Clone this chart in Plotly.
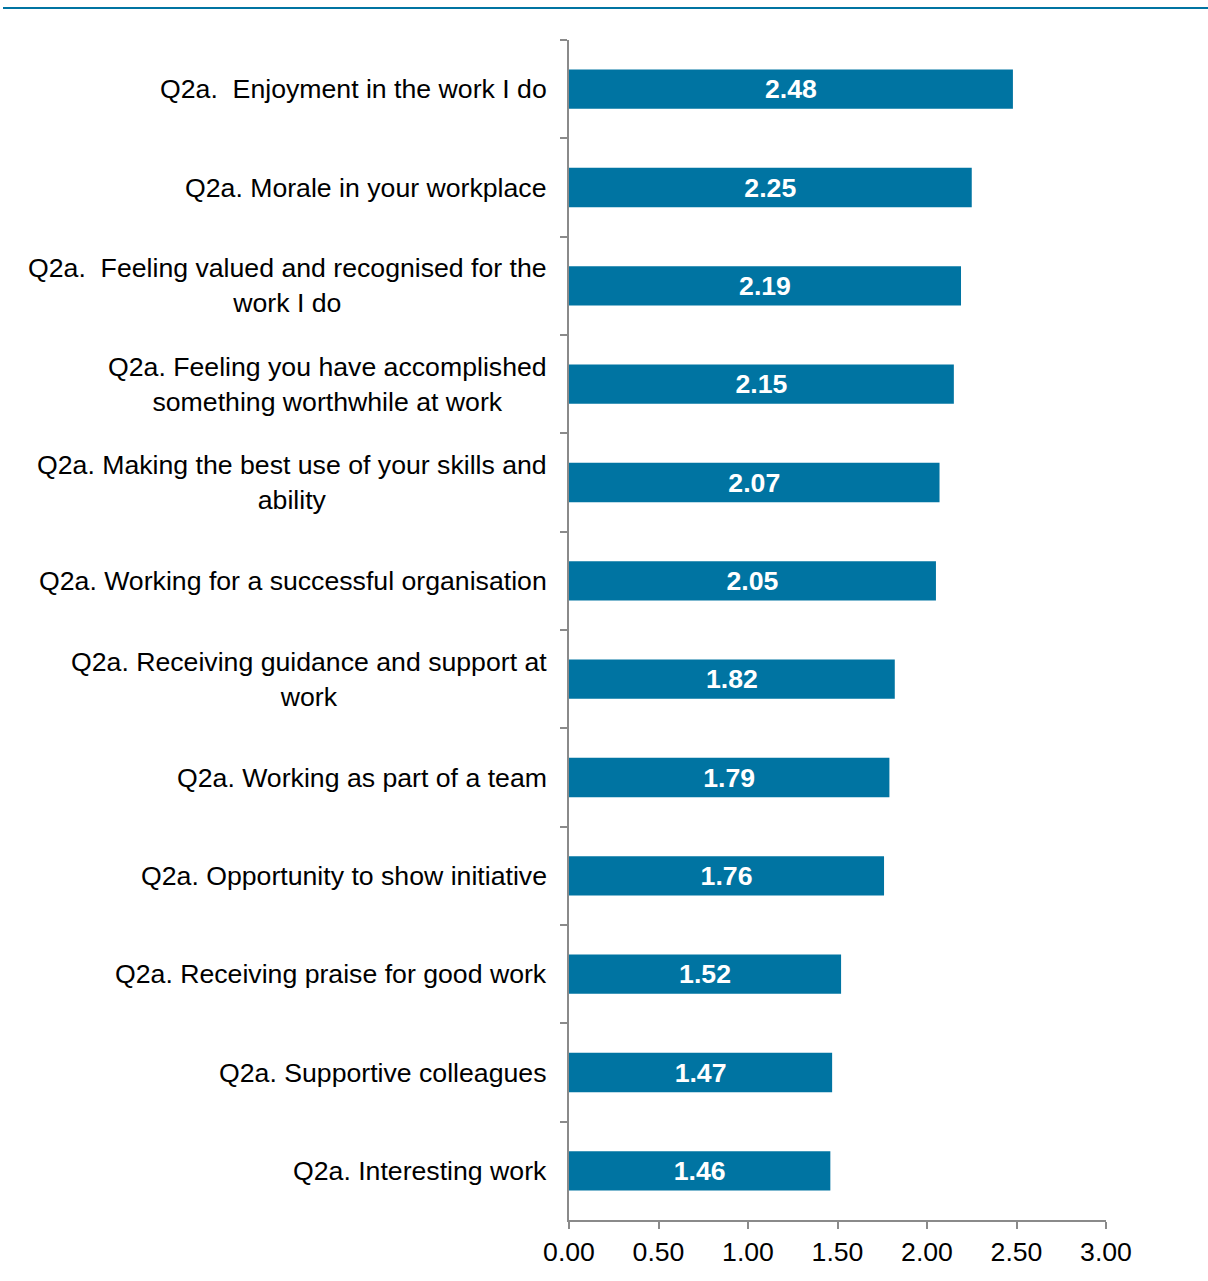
import plotly.graph_objects as go

categories = [
    "Q2a.\u00a0 Enjoyment in the work I do",
    "Q2a. Morale in your workplace",
    "Q2a.\u00a0 Feeling valued and recognised for the<br>work I do",
    "Q2a. Feeling you have accomplished<br>something worthwhile at work",
    "Q2a. Making the best use of your skills and<br>ability",
    "Q2a. Working for a successful organisation",
    "Q2a. Receiving guidance and support at<br>work",
    "Q2a. Working as part of a team",
    "Q2a. Opportunity to show initiative",
    "Q2a. Receiving praise for good work",
    "Q2a. Supportive colleagues",
    "Q2a. Interesting work",
]
values = [2.48, 2.25, 2.19, 2.15, 2.07, 2.05, 1.82, 1.79, 1.76, 1.52, 1.47, 1.46]
x_ticks = [0, 0.5, 1.0, 1.5, 2.0, 2.5, 3.0]

BAR = "#0074a2"
AXIS = "#8a8a8a"
FONT = "Liberation Sans, Arial, sans-serif"
FS = 26.67

fig = go.Figure(go.Bar(
    x=values,
    y=categories,
    orientation="h",
    width=0.4,
    marker=dict(color=BAR, line=dict(width=0)),
    texttemplate="<b>%{x:.2f}</b>",
    textposition="inside",
    insidetextanchor="middle",
    textangle=0,
    constraintext="none",
    textfont=dict(color="white", size=FS, family=FONT),
    hoverinfo="skip",
))

annotations = [
    dict(text=c, x=0, xref="paper", y=c, yref="y", xanchor="right", yanchor="middle",
         xshift=-20, align="center", showarrow=False,
         font=dict(size=FS, color="black", family=FONT))
    for c in categories
]

fig.update_layout(
    width=1208, height=1281,
    margin=dict(l=569, r=102, t=40, b=61),
    paper_bgcolor="white", plot_bgcolor="white",
    showlegend=False,
    annotations=annotations,
    font=dict(family=FONT, color="black"),
    shapes=[dict(type="line", xref="paper", yref="paper",
                 x0=-1.054, x1=1.2, y0=1.0271, y1=1.0271,
                 line=dict(color="#0074a2", width=2))],
)
fig.update_xaxes(
    range=[0, 3], tickvals=x_ticks, tickformat=".2f",
    showgrid=False, zeroline=False,
    showline=True, linecolor=AXIS, linewidth=2,
    ticks="outside", ticklen=7, tickwidth=2, tickcolor=AXIS,
    tickfont=dict(size=FS, color="black", family=FONT),
)
fig.update_yaxes(
    type="category", categoryorder="array", categoryarray=categories,
    autorange="reversed",
    showticklabels=False, tickson="boundaries",
    showgrid=False, zeroline=False,
    showline=True, linecolor=AXIS, linewidth=2,
    ticks="outside", ticklen=7, tickwidth=2, tickcolor=AXIS,
)

fig.write_html("out.html")
